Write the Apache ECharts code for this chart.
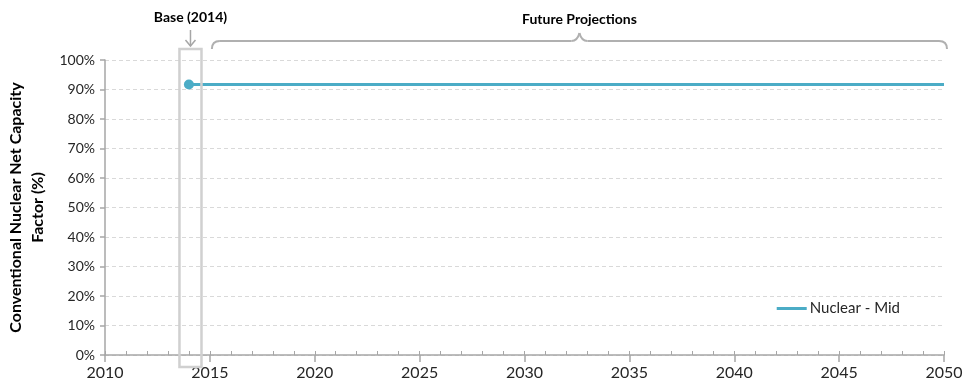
<!DOCTYPE html>
<html><head><meta charset="utf-8">
<script src="https://cdn.jsdelivr.net/npm/echarts@6/dist/echarts.min.js"></script>
<style>html,body{margin:0;padding:0;background:#fff}#c{width:977px;height:392px}</style>
</head><body><div id="c"></div>
<script>
const years = [2014,2015,2016,2017,2018,2019,2020,2021,2022,2023,2024,2025,2026,2027,2028,2029,2030,2031,2032,2033,2034,2035,2036,2037,2038,2039,2040,2041,2042,2043,2044,2045,2046,2047,2048,2049,2050];
const nuclearMid = [91.7,91.7,91.7,91.7,91.7,91.7,91.7,91.7,91.7,91.7,91.7,91.7,91.7,91.7,91.7,91.7,91.7,91.7,91.7,91.7,91.7,91.7,91.7,91.7,91.7,91.7,91.7,91.7,91.7,91.7,91.7,91.7,91.7,91.7,91.7,91.7,91.7];
const seriesName = 'Nuclear - Mid';
const yTitle = 'Conventional Nuclear Net Capacity\nFactor (%)';
const baseLabel = 'Base (2014)';
const futureLabel = 'Future Projections';
const baseRange = [2013.55, 2014.6];
const futureRange = [2015, 2050];

const FONT = 'Lato, "Open Sans", sans-serif';
const chart = echarts.init(document.getElementById('c'));
const data = years.map((y, i) => i === 0 ? {value: [y, nuclearMid[i]], symbol: 'circle', symbolSize: 10} : {value: [y, nuclearMid[i]], symbol: 'none'});
chart.setOption({
  animation: false,
  grid: {left: 105, right: 33, top: 60, bottom: 37, outerBoundsMode: 'none', containLabel: false},
  legend: {right: 72, top: 296, itemWidth: 30, itemHeight: 3, itemGap: 0,
    icon: 'rect',
    textStyle: {fontFamily: FONT, fontSize: 15, color: '#262626', padding: [0,0,0,-2]},
    data: [{name: seriesName}]},
  xAxis: [{
    type: 'value', min: 2010, max: 2050, interval: 5,
    axisLine: {lineStyle: {color: '#a6a6a6', width: 1.5}},
    axisTick: {length: 7, lineStyle: {color: '#a6a6a6', width: 1.5}},
    axisLabel: {fontFamily: FONT, fontSize: 16, color: '#262626', margin: 10, formatter: v => String(v)},
    splitLine: {show: false}
  }, {
    type: 'value', min: 2010, max: 2050, interval: 1, position: 'bottom',
    axisLine: {show: false},
    axisTick: {inside: true, length: 4, lineStyle: {color: '#a6a6a6', width: 1}},
    axisLabel: {show: false}, splitLine: {show: false}
  }],
  yAxis: {
    type: 'value', min: 0, max: 100, interval: 10,
    name: yTitle, nameLocation: 'middle', nameGap: 56, nameRotate: 90,
    nameTextStyle: {fontFamily: FONT, fontSize: 16, fontWeight: 'bold', color: '#000', lineHeight: 22},
    axisLine: {show: true, lineStyle: {color: '#a6a6a6', width: 1.5}},
    axisTick: {show: true, length: 5, lineStyle: {color: '#a6a6a6', width: 1.5}},
    axisLabel: {fontFamily: FONT, fontSize: 14, color: '#262626', formatter: '{value}%', margin: 10},
    splitLine: {lineStyle: {color: '#d9d9d9', type: [4, 3], width: 1}}
  },
  series: [{
    name: seriesName, type: 'line', data: data, showSymbol: true,
    lineStyle: {color: '#4bacc6', width: 3},
    itemStyle: {color: '#4bacc6'},
    z: 5
  }]
});

function px(x, y) { return chart.convertToPixel({xAxisIndex: 0, yAxisIndex: 0}, [x, y]); }
const b0 = px(baseRange[0], 0)[0], b1 = px(baseRange[1], 0)[0];
const f0 = px(futureRange[0], 0)[0] + 2, f1 = px(futureRange[1], 0)[0] + 3;
const bc = (b0 + b1) / 2;
const fc = (f0 + f1) / 2;
const by = 41, r = 8;
const bst = {stroke: '#b0b0b0', lineWidth: 2, fill: 'none'};
chart.setOption({
  graphic: [
    {type: 'rect', shape: {x: b0, y: 49, width: b1 - b0, height: 318}, style: {fill: 'none', stroke: '#d0d0d0', lineWidth: 2.5}, z: 10},
    {type: 'polyline', shape: {points: [[bc, 30], [bc, 46]]}, style: {stroke: '#a6a6a6', lineWidth: 1.5, fill: 'none'}},
    {type: 'polyline', shape: {points: [[bc - 5, 40], [bc, 46], [bc + 5, 40]]}, style: {stroke: '#a6a6a6', lineWidth: 1.5, fill: 'none'}},
    {type: 'text', style: {text: baseLabel, x: bc, y: 17, align: 'center', verticalAlign: 'middle', font: 'bold 14px ' + FONT, fill: '#000'}},
    {type: 'bezierCurve', shape: {x1: f0, y1: by + r, x2: f0 + r, y2: by, cpx1: f0, cpy1: by}, style: bst},
    {type: 'line', shape: {x1: f0 + r, y1: by, x2: fc - 8, y2: by}, style: bst},
    {type: 'bezierCurve', shape: {x1: fc - 8, y1: by, x2: fc, y2: by - 8, cpx1: fc - 2, cpy1: by}, style: bst},
    {type: 'bezierCurve', shape: {x1: fc, y1: by - 8, x2: fc + 8, y2: by, cpx1: fc + 2, cpy1: by}, style: bst},
    {type: 'line', shape: {x1: fc + 8, y1: by, x2: f1 - r, y2: by}, style: bst},
    {type: 'bezierCurve', shape: {x1: f1 - r, y1: by, x2: f1, y2: by + r, cpx1: f1, cpy1: by}, style: bst},
    {type: 'text', style: {text: futureLabel, x: fc, y: 19, align: 'center', verticalAlign: 'middle', font: 'bold 14px ' + FONT, fill: '#000'}}
  ]
});
</script></body></html>
